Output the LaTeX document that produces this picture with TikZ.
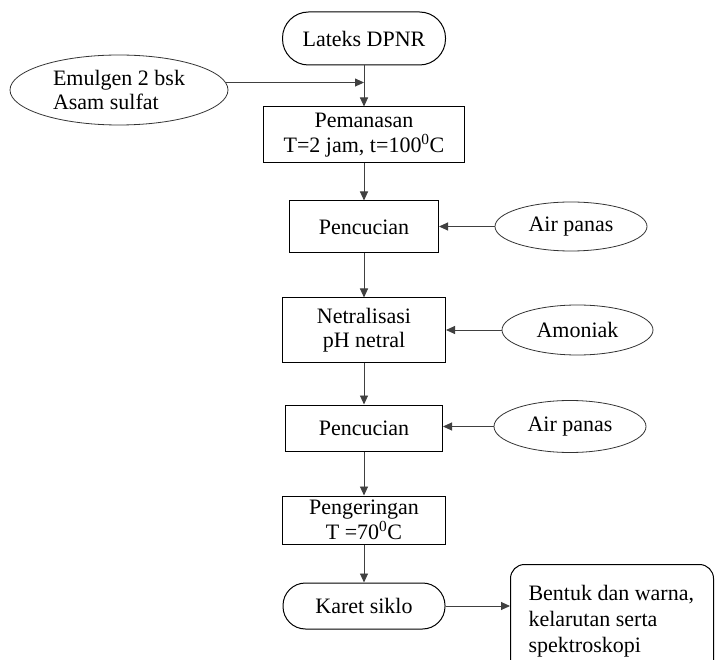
\documentclass[tikz,border=0pt]{standalone}
\usepackage{fontspec}
\setmainfont{Liberation Serif}
\usetikzlibrary{shapes.geometric,arrows.meta}
\begin{document}
\begin{tikzpicture}[x=1pt,y=-1pt,
  every node/.style={font=\fontsize{22}{24.5}\selectfont, text=black},
  boxnode/.style={draw=black, line width=1pt, inner sep=0pt, align=center},
  termnode/.style={boxnode, rounded corners=#1},
  ellnode/.style={draw=black!80, line width=0.8pt, ellipse, inner sep=0pt, align=center},
  arr/.style={draw=black!75, line width=0.9pt, -{Triangle[length=9pt,width=8pt]}}
]
\useasboundingbox (0,0) rectangle (715,660);
\clip (0,0) rectangle (715,660);

\node[termnode=26pt, minimum width=163pt, minimum height=53pt] (lateks) at (364,38.5) {Lateks DPNR};
\node[ellnode, minimum width=218pt, minimum height=70pt, align=left] (emul) at (119,90) {Emulgen 2 bsk\\Asam sulfat};
\node[boxnode, minimum width=201pt, minimum height=56pt] (pem) at (364,135) {Pemanasan\\T=2 jam, t=100\textsuperscript{0}C};
\node[boxnode, minimum width=149pt, minimum height=52pt] (pc1) at (364,227) {Pencucian};
\node[ellnode, minimum width=152pt, minimum height=49pt] (air1) at (571,226.5) {Air panas};
\node[boxnode, minimum width=163pt, minimum height=64pt] (net) at (364,330) {Netralisasi\\pH netral};
\node[ellnode, minimum width=151pt, minimum height=50pt] (amo) at (577.5,330) {Amoniak};
\node[boxnode, minimum width=157pt, minimum height=46pt] (pc2) at (364,428) {Pencucian};
\node[ellnode, minimum width=152pt, minimum height=52pt] (air2) at (570,426.5) {Air panas};
\node[boxnode, minimum width=163pt, minimum height=48pt] (peng) at (364,520) {Pengeringan\\T =70\textsuperscript{0}C};
\node[termnode=22.5pt, minimum width=162pt, minimum height=46pt] (karet) at (364,606) {Karet siklo};
\node[boxnode, rounded corners=14pt, anchor=north west, inner xsep=18pt, inner ysep=0pt, align=left] (bentuk) at (510,564)
  {\parbox[c][150pt][t]{167pt}{\vspace{21pt}Bentuk dan warna,\\[1.5pt]kelarutan serta\\[1.5pt]spektroskopi}};

\coordinate (j) at (emul.4 -| lateks.south);
\draw[arr] (lateks.south) -- (pem.north);
\draw[arr] (emul.4) -- (j);
\draw[arr] (pem.south) -- (pc1.north);
\draw[arr] (air1.west) -- (air1.west -| pc1.east);
\draw[arr] (pc1.south) -- (net.north);
\draw[arr] (amo.west) -- (amo.west -| net.east);
\draw[arr] (net.south) -- (pc2.north);
\draw[arr] (air2.west) -- (air2.west -| pc2.east);
\draw[arr] (pc2.south) -- (peng.north);
\draw[arr] (peng.south) -- (karet.north);
\draw[arr] (karet.east) -- (karet.east -| bentuk.west);
\end{tikzpicture}
\end{document}
